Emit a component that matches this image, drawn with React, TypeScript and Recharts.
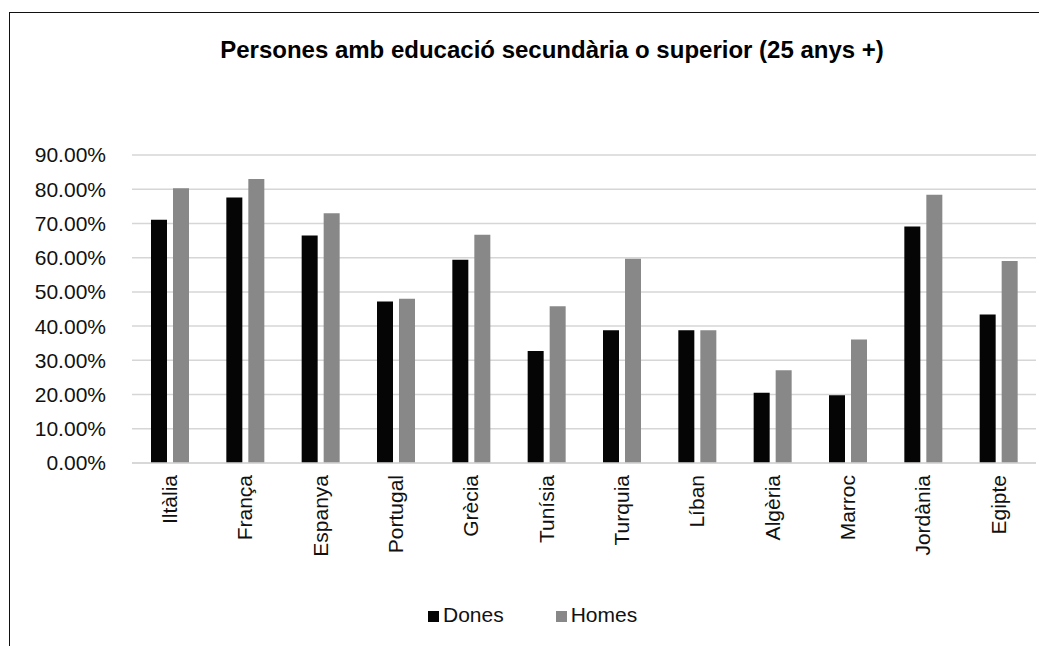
import { Bar, BarChart, CartesianGrid, XAxis, YAxis } from "recharts";

const countries = [
  "Iltàlia",
  "França",
  "Espanya",
  "Portugal",
  "Grècia",
  "Tunísia",
  "Turquia",
  "Líban",
  "Algèria",
  "Marroc",
  "Jordània",
  "Egipte",
];
const dones = [71.1, 77.6, 66.5, 47.2, 59.4, 32.7, 38.8, 38.8, 20.5, 19.8, 69.1, 43.4];
const homes = [80.3, 83.0, 73.0, 48.0, 66.7, 45.8, 59.7, 38.8, 27.1, 36.1, 78.4, 59.0];
const yTicks = [0, 10, 20, 30, 40, 50, 60, 70, 80, 90];

const seriesNames = ["Dones", "Homes"];
const seriesColors = ["#050505", "#888888"];

const FONT = "'Liberation Sans', Arial, sans-serif";

const chartData = countries.map((country, i) => ({
  country,
  dones: dones[i],
  homes: homes[i],
}));

// eslint-disable-next-line @typescript-eslint/no-explicit-any
function CountryTick(props: any) {
  const { x, y, payload } = props;
  return (
    <text
      x={x}
      y={y}
      transform={`rotate(-90 ${x} ${y})`}
      textAnchor="end"
      dy="0.35em"
      fill="#111"
      fontSize={21}
      fontFamily={FONT}
    >
      {payload.value}
    </text>
  );
}

export default function App() {
  return (
    <div
      style={{
        position: "absolute",
        left: 0,
        top: 0,
        width: 1039,
        height: 646,
        background: "#fff",
        overflow: "hidden",
        fontFamily: FONT,
      }}
    >
      {/* frame, cut off on right and bottom like the source image */}
      <div
        style={{
          position: "absolute",
          left: 9,
          top: 12,
          width: 1100,
          height: 700,
          borderTop: "1.5px solid #111",
          borderLeft: "1.5px solid #111",
        }}
      />
      <div
        style={{
          position: "absolute",
          left: 552,
          top: 38,
          transform: "translateX(-50%)",
          whiteSpace: "nowrap",
          fontSize: 24,
          lineHeight: 1,
          fontWeight: 700,
          color: "#000",
        }}
      >
        Persones amb educació secundària o superior (25 anys +)
      </div>
      <div style={{ position: "absolute", left: 0, top: 0 }}>
        <BarChart
          width={1039}
          height={646}
          data={chartData}
          margin={{ top: 155, right: 3, bottom: 63, left: 0 }}
          barSize={16}
          barGap={6}
        >
          <CartesianGrid vertical={false} stroke="#d6d6d6" strokeWidth={1.5} />
          <XAxis
            dataKey="country"
            height={120}
            interval={0}
            tick={<CountryTick />}
            tickLine={false}
            tickSize={0}
            tickMargin={12}
            axisLine={{ stroke: "#d6d6d6", strokeWidth: 1.5 }}
          />
          <YAxis
            domain={[0, 90]}
            ticks={yTicks}
            width={132}
            axisLine={false}
            tickLine={false}
            tickSize={0}
            tickMargin={26}
            tick={{ fill: "#111", fontSize: 21, fontFamily: FONT }}
            tickFormatter={(v: number) => `${v.toFixed(2)}%`}
          />
          <Bar dataKey="dones" name={seriesNames[0]} fill={seriesColors[0]} isAnimationActive={false} />
          <Bar dataKey="homes" name={seriesNames[1]} fill={seriesColors[1]} isAnimationActive={false} />
        </BarChart>
      </div>
      <div
        style={{
          position: "absolute",
          left: 428,
          top: 603,
          display: "flex",
          alignItems: "center",
          gap: 52,
          fontSize: 21,
          lineHeight: "24px",
          color: "#111",
        }}
      >
        {seriesNames.map((name, i) => (
          <div key={name} style={{ display: "flex", alignItems: "center" }}>
            <span
              style={{
                display: "inline-block",
                width: 11,
                height: 11,
                background: seriesColors[i],
                marginRight: 4,
                marginTop: 3,
              }}
            />
            <span>{name}</span>
          </div>
        ))}
      </div>
    </div>
  );
}
